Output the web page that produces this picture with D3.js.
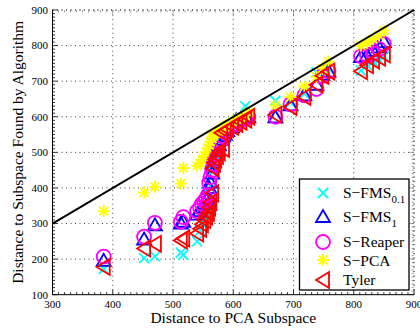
<!DOCTYPE html>
<html><head><meta charset="utf-8">
<script src="https://cdn.jsdelivr.net/npm/d3@7"></script>
<style>body{margin:0;background:#fff}svg{display:block}text{font-family:"Liberation Serif","Times New Roman",serif}</style>
</head><body><svg id="c" width="420" height="331"></svg>
<script>
const xTicks=[300,400,500,600,700,800,900];
const yTicks=[100,200,300,400,500,600,700,800,900];
const pcaDist=[385,452,470,513,517,540,545,548,552,555,558,560,562,565,566,568,570,573,576,580,583,586,590,598,605,612,620,625,670,695,718,738,748,758,812,822,832,842,850];
const sFms01=[172,203,208,218,212,250,280,300,310,320,335,360,380,400,445,460,470,480,500,520,535,545,555,565,585,590,630,610,645,640,665,725,720,735,730,745,755,760,770];
const sFms1=[195,255,295,300,305,325,335,345,355,365,372,400,415,440,460,475,490,505,520,535,545,550,560,570,590,592,600,598,598,632,660,690,718,727,768,772,785,795,810];
const sReaper=[207,263,302,305,318,335,345,355,362,370,380,415,430,450,465,480,495,510,525,535,545,555,562,575,580,588,595,600,600,635,660,678,715,728,770,772,778,790,805];
const sPca=[335,387,403,412,456,462,470,478,490,500,512,520,530,538,545,548,552,555,560,565,568,572,578,585,592,598,605,612,632,655,685,712,735,755,800,808,818,828,842];
const tyler=[178,230,243,252,258,272,285,298,310,320,330,345,360,385,455,470,480,490,500,555,510,560,565,572,580,586,592,600,605,628,656,690,715,727,728,745,758,766,775];
const seriesNames=["S\u2212FMS","S\u2212FMS","S\u2212Reaper","S\u2212PCA","Tyler"];
const seriesSubs=["0.1","1","","",""];

const svg=d3.select("#c");
const L=52.5,R=414,T=10,B=294.7;
const x=d3.scaleLinear().domain([300,900]).range([L,R]);
const y=d3.scaleLinear().domain([100,900]).range([B,T]);

const shapes={
  x:"M-5,-5L5,5M-5,5L5,-5",
  tri:"M0,-7L7,5L-7,5Z",
  circ:"M7,0A7,7 0 1,1 -7,0A7,7 0 1,1 7,0Z",
  ast:"M-6,0L6,0M0,-6L0,6M-4.3,-4.3L4.3,4.3M-4.3,4.3L4.3,-4.3",
  left:"M-7,0L6,-8L6,8Z"
};
const series=[
  {vals:sFms01,shape:"x",color:"#00ffff"},
  {vals:sFms1,shape:"tri",color:"#0000ff"},
  {vals:sReaper,shape:"circ",color:"#ff00ff"},
  {vals:sPca,shape:"ast",color:"#ffff00"},
  {vals:tyler,shape:"left",color:"#ff0000"}
];

// grid
const g=svg.append("g");
xTicks.forEach(t=>{ if(t>300) g.append("line").attr("x1",x(t)).attr("x2",x(t)).attr("y1",B).attr("y2",T).attr("stroke","#444").attr("stroke-width",1).attr("stroke-dasharray","1,3.5");});
yTicks.forEach(t=>{ if(t>100) g.append("line").attr("x1",L).attr("x2",R).attr("y1",y(t)).attr("y2",y(t)).attr("stroke","#444").attr("stroke-width",1).attr("stroke-dasharray","1,3.5");});

// minor ticks
const xMinor=d3.range(300,901,10), yMinor=d3.range(100,901,10);
xMinor.forEach(t=>{const len=xTicks.includes(t)?5:2.5;
  g.append("line").attr("x1",x(t)).attr("x2",x(t)).attr("y1",B).attr("y2",B-len).attr("stroke","#000").attr("stroke-width",0.8);
  g.append("line").attr("x1",x(t)).attr("x2",x(t)).attr("y1",T).attr("y2",T+len).attr("stroke","#666").attr("stroke-width",0.6);});
yMinor.forEach(t=>{const len=yTicks.includes(t)?5:2.5;
  g.append("line").attr("x1",L).attr("x2",L+len).attr("y1",y(t)).attr("y2",y(t)).attr("stroke","#000").attr("stroke-width",0.8);
  g.append("line").attr("x1",R).attr("x2",R-len).attr("y1",y(t)).attr("y2",y(t)).attr("stroke","#666").attr("stroke-width",0.6);});

// axes lines
g.append("line").attr("x1",L).attr("x2",L).attr("y1",T).attr("y2",B).attr("stroke","#000").attr("stroke-width",1);
g.append("line").attr("x1",L).attr("x2",R).attr("y1",B).attr("y2",B).attr("stroke","#000").attr("stroke-width",1);
g.append("line").attr("x1",L).attr("x2",R).attr("y1",T).attr("y2",T).attr("stroke","#444").attr("stroke-width",1).attr("stroke-dasharray","1,3.5");
g.append("line").attr("x1",R).attr("x2",R).attr("y1",T).attr("y2",B).attr("stroke","#444").attr("stroke-width",1).attr("stroke-dasharray","1,3.5");

// tick labels
xTicks.forEach(t=>g.append("text").attr("x",x(t)).attr("y",308).attr("text-anchor","middle").attr("font-size",11).text(t));
yTicks.forEach(t=>g.append("text").attr("x",L-4.5).attr("y",y(t)+3.8).attr("text-anchor","end").attr("font-size",11).text(t));

// points
series.forEach(s=>{
  svg.append("g").selectAll("path").data(pcaDist.map((d,i)=>[d,s.vals[i]])).join("path")
   .attr("d",shapes[s.shape]).attr("transform",d=>`translate(${x(d[0])},${y(d[1])})`)
   .attr("fill","none").attr("stroke",s.color).attr("stroke-width",1.8);
});

// diagonal
svg.append("line").attr("x1",x(300)).attr("y1",y(300)).attr("x2",x(900)).attr("y2",y(900)).attr("stroke","#000").attr("stroke-width",2);

// axis titles
svg.append("text").attr("x",(L+R)/2).attr("y",323).attr("text-anchor","middle").attr("font-size",15.5).text("Distance to PCA Subspace");
svg.append("text").attr("transform",`translate(22.5,${(T+B)/2}) rotate(-90)`).attr("text-anchor","middle").attr("font-size",15.5).text("Distance to Subspace Found by Algorithm");

// legend
const lg=svg.append("g");
lg.append("rect").attr("x",299.5).attr("y",179).attr("width",109.5).attr("height",111).attr("fill","#fff").attr("stroke","#000").attr("stroke-width",1.3);
const ly=[193,217,242,260,280], tb=[197.5,222,247,265.5,284.5];
series.forEach((s,i)=>{
  lg.append("path").attr("d",shapes[s.shape]).attr("transform",`translate(323,${ly[i]})`).attr("fill","none").attr("stroke",s.color).attr("stroke-width",1.8);
  const t=lg.append("text").attr("x",343).attr("y",tb[i]).attr("font-size",15.5).text(seriesNames[i]);
  if(seriesSubs[i]) t.append("tspan").attr("font-size",11).attr("dy",5).text(seriesSubs[i]);
});
</script></body></html>
